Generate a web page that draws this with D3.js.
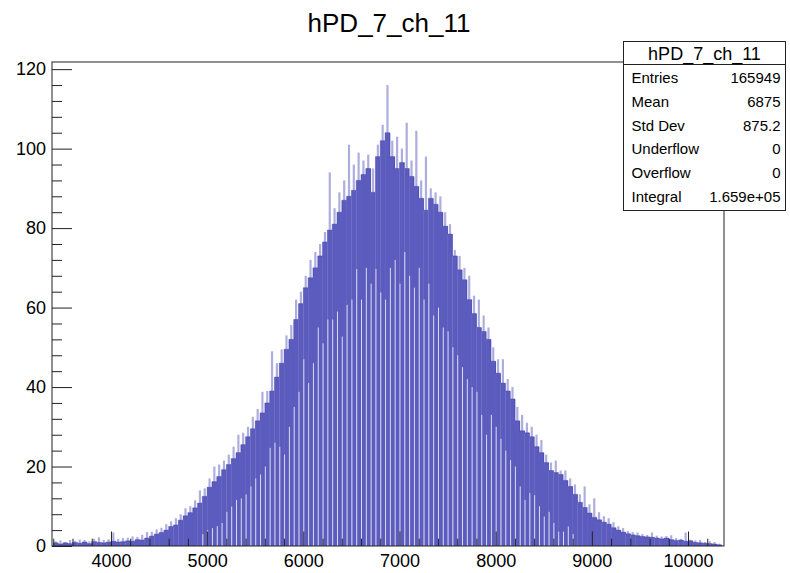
<!DOCTYPE html>
<html>
<head>
<meta charset="utf-8">
<script src="https://cdn.jsdelivr.net/npm/d3@7"></script>
<style>
  body { margin: 0; background: #fff; }
  #wrapper { width: 790px; height: 573px; }
</style>
</head>
<body>
<div id="wrapper"></div>
<script>
// histogram definition: 50-count wide bins starting at 3400
const binLow = 3400
const binWidth = 50

// dark body of the histogram (typical bin top inside each 50-wide slice)
const bodyCounts = [
  0.8, 0.5, 0.8, 0.6, 0.9, 0.7, 1.0, 0.6, 1.1, 0.9,
  0.8, 1.0, 1.2, 1.0, 1.1, 1.3, 1.2, 1.6, 1.5, 2.0,
  2.5, 3.0, 3.4, 4.0, 4.9, 5.3, 6.5, 7.6, 8.4, 9.6,
  10.8, 12.5, 14.8, 16.2, 17.5, 19.2, 20.5, 22.0, 23.5, 25.5,
  27.5, 29.5, 31.5, 33.5, 36.0, 39.0, 42.5, 46.0, 49.5, 52.0,
  57.0, 61.0, 65.0, 67.5, 70.0, 73.0, 76.5, 79.5, 81.0, 84.0,
  87.0, 88.0, 89.5, 92.0, 93.5, 95.0, 89.0, 98.0, 102.0, 104.0,
  98.0, 95.0, 96.5, 95.0, 93.0, 90.5, 87.5, 84.5, 87.5, 86.0,
  84.0, 80.5, 78.5, 73.0, 69.5, 67.0, 62.0, 58.5, 55.0, 54.0,
  52.0, 46.5, 43.5, 41.0, 39.0, 37.0, 31.5, 29.0, 28.5, 27.5,
  25.0, 23.5, 21.0, 19.0, 18.5, 18.0, 16.5, 15.0, 13.0, 11.0,
  9.7, 8.3, 7.2, 6.6, 6.0, 5.5, 4.6, 4.0, 3.5, 3.1,
  2.8, 2.6, 2.4, 2.3, 2.2, 2.0, 1.8, 2.0, 1.6, 1.4,
  1.5, 1.2, 1.3, 0.9, 0.8, 0.7, 0.6, 0.5, 0.3
]

// tallest single bin inside each slice (the pale spikes)
const spikeCounts = [
  1.2, 1.4, 1.0, 1.5, 1.3, 1.6, 1.5, 1.2, 1.8, 2.2,
  1.5, 1.7, 3.4, 1.8, 2.0, 2.1, 2.4, 2.3, 2.8, 3.5,
  3.6, 4.2, 4.6, 5.5, 6.2, 7.0, 8.0, 9.5, 10.0, 11.5,
  14.0, 14.5, 17.0, 20.0, 20.5, 21.5, 23.0, 25.0, 28.0, 28.5,
  30.0, 32.5, 34.5, 38.8, 39.0, 49.0, 46.0, 49.5, 53.0, 55.6,
  62.0, 64.0, 68.0, 72.0, 74.0, 76.0, 79.0, 94.0, 85.0, 89.0,
  92.0, 101.0, 96.0, 99.0, 97.0, 98.5, 95.0, 101.0, 106.0, 116.0,
  102.0, 103.0, 100.0, 106.5, 97.0, 104.5, 92.0, 98.0, 90.0, 89.0,
  88.0, 84.0, 81.0, 74.5, 73.0, 70.0, 68.0, 63.0, 62.0, 58.0,
  55.0, 50.0, 47.0, 47.0, 42.0, 40.0, 35.0, 33.0, 31.0, 30.0,
  28.0, 26.7, 23.0, 21.0, 21.5, 19.0, 19.0, 17.0, 15.5, 13.0,
  15.0, 10.5, 12.0, 8.5, 7.5, 7.0, 6.0, 5.0, 4.5, 3.8,
  3.5, 3.4, 3.0, 2.8, 3.4, 2.6, 2.4, 2.5, 2.7, 2.0,
  1.8, 3.4, 1.6, 1.4, 1.5, 1.0, 1.2, 1.0, 0.6
]

// height of the pale empty-code stripes at the left edge of each slice
const gapCounts = [
  0, 0, 0, 0, 0, 0, 0, 0, 0, 0,
  0, 0, 0, 0, 0, 0, 0, 0, 0, 0,
  0, 0, 0, 0, 0, 0, 0, 0, 0, 0,
  0, 3, 4, 4.5, 5, 5.8, 8.6, 9.9, 11.6, 12,
  13, 15, 17, 18, 20, 24.7, 26, 25, 23, 30,
  35, 38.8, 47, 41, 46, 55, 51, 57, 57, 59,
  52.7, 60.7, 62, 69.7, 62, 70, 66, 69.7, 63.8, 62,
  70, 72, 66, 74, 68, 65, 70, 62, 66, 58,
  60, 55, 54, 50, 48, 45, 42, 40, 38.8, 33,
  28, 33, 30, 27, 24, 21.6, 20, 15, 11.6, 13.3,
  12.8, 10, 7.4, 8.6, 5.8, 3.6, 3.6, 4.9, 3, 0,
  0, 0, 0, 0, 0, 0, 0, 0, 0, 0,
  0, 0, 0, 0, 0, 0, 0, 0, 0, 0,
  0, 0, 0, 0, 0, 0, 0, 0, 0
]

const xMajorTicks = [4000, 5000, 6000, 7000, 8000, 9000, 10000]
const yMajorTicks = [0, 20, 40, 60, 80, 100, 120]

const histTitle = "hPD_7_ch_11"
const statLabels = ["Entries", "Mean", "Std Dev", "Underflow", "Overflow", "Integral"]
const statValues = ["165949", "6875", "875.2", "0", "0", "1.659e+05"]

function drawHist() {
  const font = "'Liberation Sans', Arial, Helvetica, sans-serif"

  // 1. data
  const bins = bodyCounts.map((body, i) => ({
    x0: binLow + i * binWidth,
    x1: binLow + (i + 1) * binWidth,
    body,
    spike: spikeCounts[i],
    gap: gapCounts[i]
  }))

  // 2. dimensions
  let dimensions = {
    width: 790,
    height: 573,
    margin: { top: 62, right: 66, bottom: 27, left: 52 }
  }
  dimensions.boundedWidth = dimensions.width
    - dimensions.margin.left - dimensions.margin.right
  dimensions.boundedHeight = dimensions.height
    - dimensions.margin.top - dimensions.margin.bottom

  // 3. canvas
  const wrapper = d3.select("#wrapper")
    .append("svg")
      .attr("width", dimensions.width)
      .attr("height", dimensions.height)
      .style("font-family", font)

  const bounds = wrapper.append("g")
    .attr("transform", `translate(${dimensions.margin.left},${dimensions.margin.top})`)

  // 4. scales
  const xScale = d3.scaleLinear()
    .domain([3387, 10374])
    .range([0, dimensions.boundedWidth])

  const yScale = d3.scaleLinear()
    .domain([0, 121.8])
    .range([dimensions.boundedHeight, 0])

  // 5. bars
  const spikeWidth = 2.2
  bounds.append("g")
    .selectAll("rect")
    .data(bins)
    .join("rect")
      .attr("x", d => xScale((d.x0 + d.x1) / 2) - spikeWidth / 2)
      .attr("y", d => yScale(d.spike))
      .attr("width", spikeWidth)
      .attr("height", d => dimensions.boundedHeight - yScale(d.spike))
      .attr("fill", "#aeaede")

  bounds.append("g")
    .selectAll("rect")
    .data(bins)
    .join("rect")
      .attr("x", d => xScale(d.x0))
      .attr("y", d => yScale(d.body))
      .attr("width", d => xScale(d.x1) - xScale(d.x0) + 0.3)
      .attr("height", d => dimensions.boundedHeight - yScale(d.body))
      .attr("fill", "#5c5cbe")

  const stepLine = d3.line()
    .x(d => xScale(d[0]))
    .y(d => yScale(d[1]))
    .curve(d3.curveStepAfter)
  bounds.append("path")
    .datum(bins.map(d => [d.x0, d.body]).concat([[bins[bins.length - 1].x1, 0]]))
    .attr("d", stepLine)
    .attr("fill", "none")
    .attr("stroke", "#3a3aa4")
    .attr("stroke-width", 0.8)
    .attr("stroke-opacity", 0.5)

  bounds.append("g")
    .selectAll("rect")
    .data(bins.filter(d => d.gap > 0))
    .join("rect")
      .attr("x", d => xScale(d.x0))
      .attr("y", d => yScale(d.gap))
      .attr("width", 1)
      .attr("height", d => dimensions.boundedHeight - yScale(d.gap))
      .attr("fill", "#dadaf2")

  // 6. axes (ROOT style: ticks inside the frame)
  const xMinor = d3.range(3400, 10374, 200).filter(v => !xMajorTicks.includes(v))
  const yMinor = d3.range(0, 121.8, 4).filter(v => !yMajorTicks.includes(v))

  bounds.append("g")
    .attr("transform", `translate(0,${dimensions.boundedHeight})`)
    .call(d3.axisBottom(xScale).tickValues(xMajorTicks).tickSize(-14.5).tickPadding(8)
      .tickFormat(d3.format("d")))
  bounds.append("g")
    .attr("transform", `translate(0,${dimensions.boundedHeight})`)
    .call(d3.axisBottom(xScale).tickValues(xMinor).tickSize(-7.3).tickFormat(""))

  bounds.append("g")
    .call(d3.axisLeft(yScale).tickValues(yMajorTicks).tickSize(-20).tickPadding(6))
  bounds.append("g")
    .call(d3.axisLeft(yScale).tickValues(yMinor).tickSize(-10).tickFormat(""))

  bounds.selectAll(".domain").remove()
  bounds.selectAll(".tick line").attr("stroke", "#222")
  bounds.selectAll(".tick text")
    .attr("fill", "#000")
    .style("font-size", "18px")
    .style("font-family", font)

  bounds.append("rect")
    .attr("x", 0)
    .attr("y", 0)
    .attr("width", dimensions.boundedWidth)
    .attr("height", dimensions.boundedHeight)
    .attr("fill", "none")
    .attr("stroke", "#222")
    .attr("stroke-width", 1)

  // 7. title + stats box
  wrapper.append("text")
    .attr("x", 389)
    .attr("y", 32)
    .attr("text-anchor", "middle")
    .style("font-size", "26px")
    .text(histTitle)

  const box = wrapper.append("g")
    .attr("transform", "translate(623.5,41.5)")
  box.append("rect")
    .attr("width", 162)
    .attr("height", 169)
    .attr("fill", "#fff")
    .attr("stroke", "#222")
  box.append("line")
    .attr("x1", 0).attr("x2", 162)
    .attr("y1", 23).attr("y2", 23)
    .attr("stroke", "#222")
  box.append("text")
    .attr("x", 81)
    .attr("y", 18)
    .attr("text-anchor", "middle")
    .style("font-size", "18px")
    .text(histTitle)
  box.selectAll(".label")
    .data(statLabels)
    .join("text")
      .attr("class", "label")
      .attr("x", 8)
      .attr("y", (d, i) => 41.5 + i * 23.8)
      .style("font-size", "15px")
      .text(d => d)
  box.selectAll(".value")
    .data(statValues)
    .join("text")
      .attr("class", "value")
      .attr("x", 157)
      .attr("y", (d, i) => 41.5 + i * 23.8)
      .attr("text-anchor", "end")
      .style("font-size", "15px")
      .text(d => d)
}

drawHist()
</script>
</body>
</html>
